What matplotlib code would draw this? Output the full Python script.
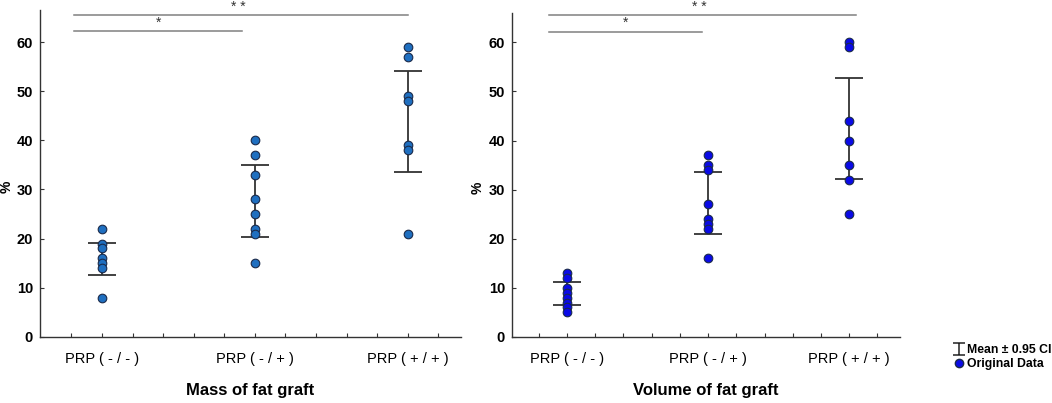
import matplotlib
matplotlib.use("Agg")
import matplotlib.pyplot as plt
import numpy as np
from matplotlib.path import Path
from matplotlib.lines import Line2D

plt.rcParams["font.family"] = ["Liberation Sans", "DejaVu Sans"]

groups = ["PRP ( - / - )", "PRP ( - / + )", "PRP ( + / + )"]

mass_values = [
    [22, 19, 18, 16, 15, 14, 8],
    [40, 37, 33, 28, 25, 22, 21, 15],
    [59, 57, 49, 48, 39, 38, 21],
]
mass_ci_low = [12.5, 20.4, 33.5]
mass_ci_high = [19.2, 35.0, 54.1]

volume_values = [
    [13, 12, 10, 9, 8, 7, 6, 5],
    [37, 35, 34, 27, 24, 23, 22, 16],
    [60, 59, 44, 40, 35, 32, 25],
]
volume_ci_low = [6.4, 21.0, 32.2]
volume_ci_high = [11.1, 33.5, 52.7]

yticks = [0, 10, 20, 30, 40, 50, 60]

fig = plt.figure(figsize=(10.52, 4.03), dpi=100)
ax1 = fig.add_axes([0.038, 0.164, 0.400, 0.811])
ax2 = fig.add_axes([0.4867, 0.164, 0.3688, 0.804])

panels = [
    (ax1, mass_values, mass_ci_low, mass_ci_high, "Mass of fat graft",
     "#1f6fc0", (-0.405, 2.346), 66.5, -0.18, 2.0, 0.915, -0.062),
    (ax2, volume_values, volume_ci_low, volume_ci_high, "Volume of fat graft",
     "#0a0ae6", (-0.39, 2.36), 66.0, -0.13, 2.05, 0.96, -0.07),
]

for ax, vals, lo, hi, title, color, xlim, ytop, s0, s2, s1, ylx in panels:
    for i, v in enumerate(vals):
        mid = (lo[i] + hi[i]) / 2
        ax.errorbar(i, mid, yerr=[[mid - lo[i]], [hi[i] - mid]], fmt="none",
                    ecolor="#333333", elinewidth=1.3, capsize=10, capthick=1.3,
                    zorder=2)
        ax.plot(np.full(len(v), i), v, "o", color=color, markeredgecolor="#1a2a4a",
                markeredgewidth=0.8, markersize=6.2, zorder=3)

    ax.set_xlim(*xlim)
    ax.set_ylim(0, ytop)
    ticks = np.round(np.arange(-0.2, 2.21, 0.2), 2)
    ax.set_xticks(ticks)
    ax.set_xticklabels([groups[int(t)] if abs(t - round(t)) < 1e-6 else "" for t in ticks],
                       fontsize=10.5)
    ax.set_yticks(yticks)
    ax.set_yticklabels([str(t) for t in yticks], fontsize=10.5, fontweight="bold")
    ax.tick_params(axis="x", direction="in", length=3, color="#333333", pad=11)
    ax.tick_params(axis="y", direction="in", length=3, color="#333333", pad=5)
    for s in ["top", "right"]:
        ax.spines[s].set_visible(False)
    for s in ["left", "bottom"]:
        ax.spines[s].set_color("#333333")
        ax.spines[s].set_linewidth(1.0)
    ax.set_xlabel(title, fontsize=12, fontweight="bold", labelpad=12)
    ax.set_ylabel("%", fontsize=10, fontweight="bold")
    ax.yaxis.set_label_coords(ylx, 0.46)

    # significance lines
    ax.plot([s0, s2], [65.5, 65.5], color="#808080", lw=1.1, clip_on=False)
    ax.plot([s0, s1], [62.2, 62.2], color="#808080", lw=1.1, clip_on=False)
    ax.text((s0 + s1) / 2, 62.5, "*", ha="center", va="bottom", fontsize=10,
            color="#333333", clip_on=False)
    ax.text((s0 + s2) / 2 - 0.02, 65.8, "* *", ha="center", va="bottom", fontsize=10,
            color="#333333", clip_on=False)

ci_marker = Path([(-1, 1), (1, 1), (0, 1), (0, -1), (-1, -1), (1, -1)],
                 [Path.MOVETO, Path.LINETO, Path.MOVETO, Path.LINETO,
                  Path.MOVETO, Path.LINETO])
handles = [
    Line2D([], [], linestyle="none", marker=ci_marker, markersize=9,
           markeredgecolor="#222222", markerfacecolor="none", markeredgewidth=1.1),
    Line2D([], [], linestyle="none", marker="o", markersize=6,
           markerfacecolor="#0a0ae6", markeredgecolor="#1a2a4a"),
]
fig.legend(handles, ["Mean ± 0.95 CI", "Original Data"], loc="upper left",
           bbox_to_anchor=(0.902, 0.162), frameon=False,
           handlelength=0.7, handletextpad=0.3, labelspacing=0.2,
           borderpad=0, prop={"weight": "bold", "size": 8.8})

fig.savefig("out.png", dpi=100)
